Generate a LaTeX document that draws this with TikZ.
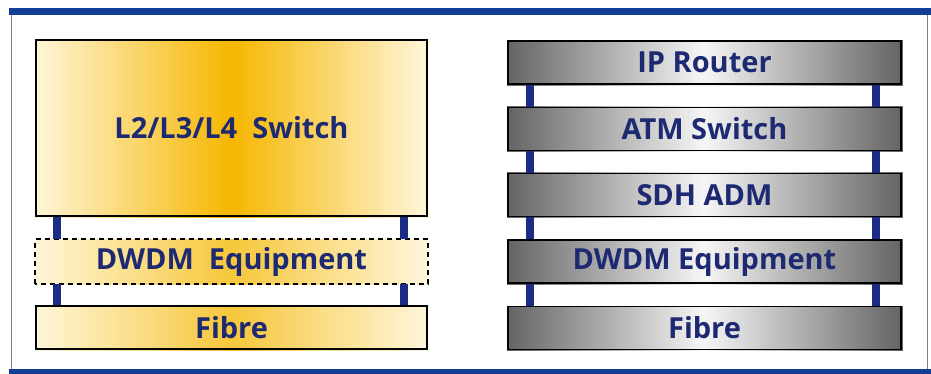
\documentclass[tikz,border=0pt]{standalone}
\usepackage{fontspec}
\setmainfont{Open Sans}
\usetikzlibrary{calc,backgrounds}
\definecolor{barblue}{HTML}{123F95}
\definecolor{txtblue}{HTML}{1D2A72}
\definecolor{linkblue}{HTML}{1C2B86}
\definecolor{gold}{HTML}{F6B700}
\definecolor{softgold}{HTML}{F6C73A}
\definecolor{paleyel}{HTML}{FEF6DA}
\definecolor{steel}{HTML}{646464}
\definecolor{shine}{HTML}{F6F6F6}
\tikzset{
    layer/.style={draw=black,line width=1.6pt,minimum height=43pt,inner sep=0pt,
        font=\fontsize{29}{31}\selectfont\bfseries,text=txtblue},
    yellowbox/.style={layer,minimum width=391pt},
    greybox/.style={layer,minimum width=393pt},
    link/.style={draw=linkblue,line width=8pt},
}
% strip gradient: edge colour at both sides, centre colour in the middle
\newcommand\gradfill[3]{%
    \foreach \i in {0,...,79}{
        \pgfmathsetmacro\p{100*(1-abs(\i-39.5)/40)}
        \filldraw[draw=#3!\p!#2,fill=#3!\p!#2,line width=0.4pt]
            ($(#1.south west)!\i/80!(#1.south east)$) rectangle ($(#1.north west)!{(\i+1)/80}!(#1.north east)$);
    }}
\begin{document}
\begin{tikzpicture}[x=1pt,y=-1pt]
    \useasboundingbox (0,0) rectangle (931,374);

    % left stack
    \node[yellowbox,minimum height=176pt] (sw) at (231.5,128) {L2/L3/L4\ \ Switch};
    \node[yellowbox,draw=none] (ldwdm) at (231.5,261.5) {DWDM\ \ Equipment};
    \draw[black,line width=1.6pt,dash pattern=on 5pt off 4pt] (ldwdm.south west) rectangle (ldwdm.north east);
    \node[yellowbox] (lfib) at (231.5,327.5) {Fibre};

    \draw[link] ([xshift=22pt]sw.south west) -- ([xshift=22pt]ldwdm.north west);
    \draw[link] ([xshift=-24pt]sw.south east) -- ([xshift=-24pt]ldwdm.north east);
    \draw[link] ([xshift=22pt]ldwdm.south west) -- ([xshift=22pt]lfib.north west);
    \draw[link] ([xshift=-24pt]ldwdm.south east) -- ([xshift=-24pt]lfib.north east);

    % right stack
    \node[greybox] (ip) at (704.5,62.5) {IP Router};
    \node[greybox] (atm) at (704.5,129) {ATM Switch};
    \node[greybox] (sdh) at (704.5,195) {SDH ADM};
    \node[greybox] (rdwdm) at (704.5,261.5) {DWDM Equipment};
    \node[greybox] (rfib) at (704.5,328) {Fibre};

    \foreach \a/\b in {ip/atm,atm/sdh,sdh/rdwdm,rdwdm/rfib}{
        \draw[link] ([xshift=23pt]\a.south west) -- ([xshift=23pt]\b.north west);
        \draw[link] ([xshift=-26pt]\a.south east) -- ([xshift=-26pt]\b.north east);
    }

    \begin{scope}[on background layer]
        \fill[white] (0,0) rectangle (931,374);
        % frame
        \draw[gray,line width=1pt] (11,14) -- (11,370);
        \draw[gray,line width=1pt] (927,14) -- (927,370);
        \fill[barblue] (9,8) rectangle (931,15);
        \fill[barblue] (9,369) rectangle (931,374);
        \gradfill{sw}{paleyel}{gold}
        \foreach \b in {ldwdm,lfib}{\gradfill{\b}{paleyel}{softgold}}
        \foreach \b in {ip,atm,sdh,rdwdm,rfib}{\gradfill{\b}{steel}{shine}}
    \end{scope}
\end{tikzpicture}
\end{document}
